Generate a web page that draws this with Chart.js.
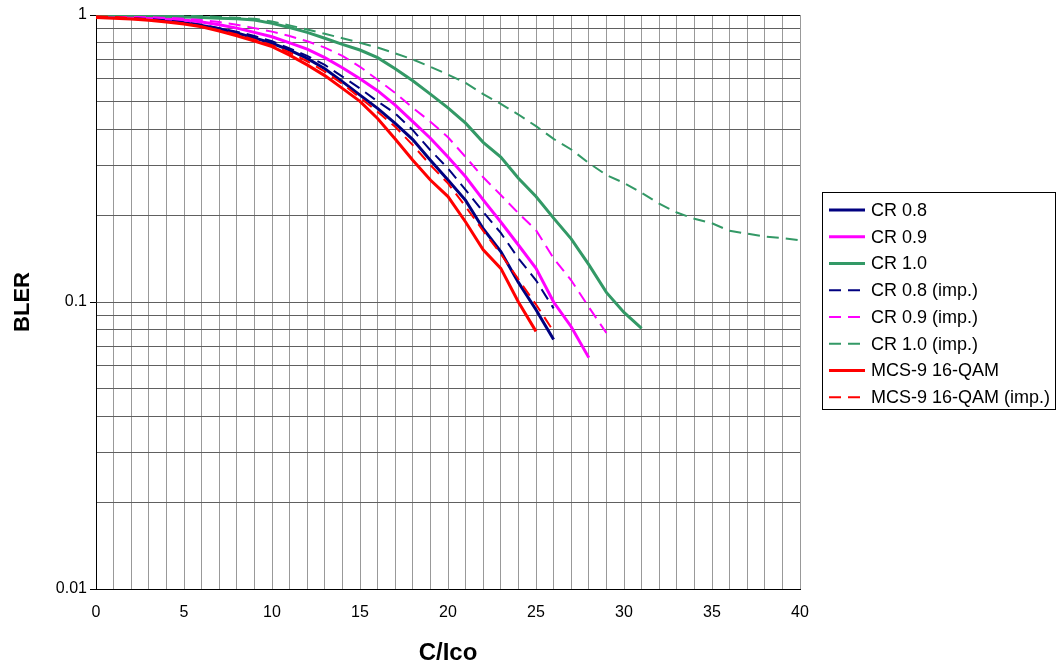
<!DOCTYPE html>
<html>
<head>
<meta charset="utf-8">
<script src="https://cdn.jsdelivr.net/npm/chart.js@4/dist/chart.umd.min.js"></script>
<style>
html,body{margin:0;padding:0;background:#fff;}
#wrap{width:1056px;height:668px;position:relative;}
</style>
</head>
<body>
<div id="wrap"><canvas id="c" width="1056" height="668"></canvas></div>
<script>
const xValues = [0,1,2,3,4,5,6,7,8,9,10,11,12,13,14,15,16,17,18,19,20,21,22,23,24,25,26,27,28,29,30,31,32,33,34,35,36,37,38,39,40];
const seriesNames = ['CR 0.8','CR 0.9','CR 1.0','CR 0.8 (imp.)','CR 0.9 (imp.)','CR 1.0 (imp.)','MCS-9 16-QAM','MCS-9 16-QAM (imp.)'];
const cr08 = [0.99,0.985,0.978,0.968,0.955,0.94,0.92,0.895,0.865,0.832,0.797,0.755,0.706,0.65,0.586,0.526,0.473,0.419,0.368,0.312,0.266,0.226,0.18,0.15,0.117,0.094,0.074];
const cr09 = [0.995,0.99,0.985,0.978,0.97,0.96,0.945,0.925,0.9,0.87,0.84,0.8,0.76,0.71,0.655,0.6,0.545,0.485,0.425,0.372,0.32,0.273,0.227,0.19,0.158,0.131,0.1,0.082,0.064];
const cr10 = [1.0,1.0,0.998,0.995,0.99,0.985,0.98,0.975,0.97,0.96,0.935,0.905,0.87,0.83,0.79,0.755,0.71,0.65,0.59,0.53,0.475,0.42,0.36,0.32,0.27,0.233,0.196,0.166,0.135,0.108,0.092,0.081];
const cr08imp = [0.992,0.988,0.98,0.97,0.958,0.943,0.925,0.9,0.875,0.845,0.81,0.765,0.72,0.67,0.61,0.555,0.5,0.454,0.397,0.338,0.292,0.246,0.206,0.174,0.142,0.119,0.095];
const cr09imp = [0.997,0.995,0.99,0.985,0.978,0.97,0.96,0.945,0.925,0.9,0.875,0.845,0.81,0.77,0.72,0.66,0.595,0.535,0.475,0.425,0.375,0.32,0.272,0.236,0.204,0.178,0.142,0.119,0.096,0.078];
const cr10imp = [1.0,1.0,1.0,0.998,0.996,0.994,0.99,0.985,0.978,0.97,0.95,0.92,0.89,0.86,0.83,0.80,0.77,0.735,0.70,0.66,0.62,0.58,0.53,0.49,0.45,0.41,0.37,0.34,0.305,0.277,0.26,0.24,0.22,0.205,0.195,0.188,0.177,0.173,0.169,0.167,0.164];
const mcs9 = [0.98,0.975,0.968,0.958,0.945,0.93,0.91,0.88,0.847,0.812,0.776,0.725,0.67,0.615,0.555,0.5,0.436,0.37,0.312,0.266,0.233,0.19,0.152,0.131,0.1,0.079];
const mcs9imp = [0.99,0.985,0.975,0.965,0.95,0.935,0.912,0.885,0.855,0.82,0.785,0.74,0.69,0.635,0.575,0.515,0.46,0.408,0.352,0.30,0.259,0.215,0.177,0.147,0.12,0.098,0.079];
const yTickValues = [0.01,0.02,0.03,0.04,0.05,0.06,0.07,0.08,0.09,0.1,0.2,0.3,0.4,0.5,0.6,0.7,0.8,0.9,1];
const yMajorTicks = [0.01,0.1,1];
const yMajorLabels = ['0.01','0.1','1'];
const xLabelStep = 5;

const allSeries = [cr08,cr09,cr10,cr08imp,cr09imp,cr10imp,mcs9,mcs9imp];
const colors = ['#000080','#FF00FF','#339966','#000080','#FF00FF','#339966','#FF0000','#FF0000'];
const dashed = [false,false,false,true,true,true,false,true];
const DASH = [12,7];

const datasets = allSeries.map((s,i)=>({
  label: seriesNames[i],
  data: s.map((v,j)=>({x:xValues[j], y:v})),
  borderColor: colors[i],
  backgroundColor: colors[i],
  borderWidth: dashed[i] ? 2 : 3,
  borderDash: dashed[i] ? DASH : [],
  pointRadius: 0,
  tension: 0,
  fill: false,
  order: allSeries.length - i
}));

const isMajor = v => yMajorTicks.some(m => Math.abs(m - v) < 1e-9);

const legendPlugin = {
  id: 'boxLegend',
  afterDraw(chart){
    const ctx = chart.ctx;
    ctx.save();
    const left = 822.5, top = 192.5, right = 1055.5, bottom = 409.5;
    ctx.fillStyle = '#fff';
    ctx.fillRect(left, top, right-left, bottom-top);
    ctx.strokeStyle = '#000';
    ctx.lineWidth = 1;
    ctx.setLineDash([]);
    ctx.strokeRect(left, top, right-left, bottom-top);
    ctx.font = '18px "Liberation Sans", Arial, sans-serif';
    ctx.textBaseline = 'middle';
    ctx.textAlign = 'left';
    for (let i=0;i<seriesNames.length;i++){
      const y = 210 + i*26.75;
      ctx.beginPath();
      ctx.strokeStyle = colors[i];
      ctx.lineWidth = dashed[i] ? 2 : 3;
      ctx.setLineDash(dashed[i] ? [12,7] : []);
      ctx.moveTo(829, y);
      ctx.lineTo(865, y);
      ctx.stroke();
      ctx.setLineDash([]);
      ctx.fillStyle = '#000';
      ctx.fillText(seriesNames[i], 871, y + 1);
    }
    ctx.restore();
  }
};

new Chart(document.getElementById('c'), {
  type: 'line',
  data: { datasets },
  options: {
    responsive: false,
    animation: false,
    events: [],
    layout: { padding: { left: 0, top: 15, right: 256, bottom: 0 } },
    plugins: { legend: { display: false }, tooltip: { enabled: false } },
    scales: {
      x: {
        type: 'linear',
        min: 0, max: 40,
        afterFit(scale){ scale.height = 79; },
        ticks: {
          stepSize: 1, autoSkip: false, maxRotation: 0,
          color: '#000', padding: 14,
          font: { family: '"Liberation Sans", Arial, sans-serif', size: 16 },
          callback: v => (v % xLabelStep === 0 ? String(v) : '')
        },
        grid: { color: '#999999', lineWidth: 1, drawTicks: false },
        border: { color: '#000', width: 1 },
        title: {
          display: true, text: 'C/Ico', color: '#000',
          font: { family: '"Liberation Sans", Arial, sans-serif', size: 24, weight: 'bold' },
          padding: { top: 0, bottom: 0 }
        }
      },
      y: {
        type: 'logarithmic',
        min: 0.01, max: 1,
        afterFit(scale){ scale.width = 96; },
        afterBuildTicks(scale){ scale.ticks = yTickValues.map(v => ({ value: v, major: isMajor(v) })); },
        ticks: {
          autoSkip: false, color: '#000', padding: 3,
          font: { family: '"Liberation Sans", Arial, sans-serif', size: 16 },
          callback: v => { const k = yMajorTicks.findIndex(m => Math.abs(m - v) < 1e-9); return k >= 0 ? yMajorLabels[k] : ''; }
        },
        grid: {
          color: c => (c.tick && Math.abs(c.tick.value - 1) < 1e-9) ? '#000' : '#606060',
          lineWidth: 1,
          tickLength: 6,
          tickColor: c => (c.tick && isMajor(c.tick.value)) ? '#000' : 'rgba(0,0,0,0)'
        },
        border: { color: '#000', width: 1 },
        title: {
          display: true, text: 'BLER', color: '#000',
          font: { family: '"Liberation Sans", Arial, sans-serif', size: 22, weight: 'bold' },
          padding: { top: 10, bottom: 0 }
        }
      }
    }
  },
  plugins: [legendPlugin]
});
</script>
</body>
</html>
